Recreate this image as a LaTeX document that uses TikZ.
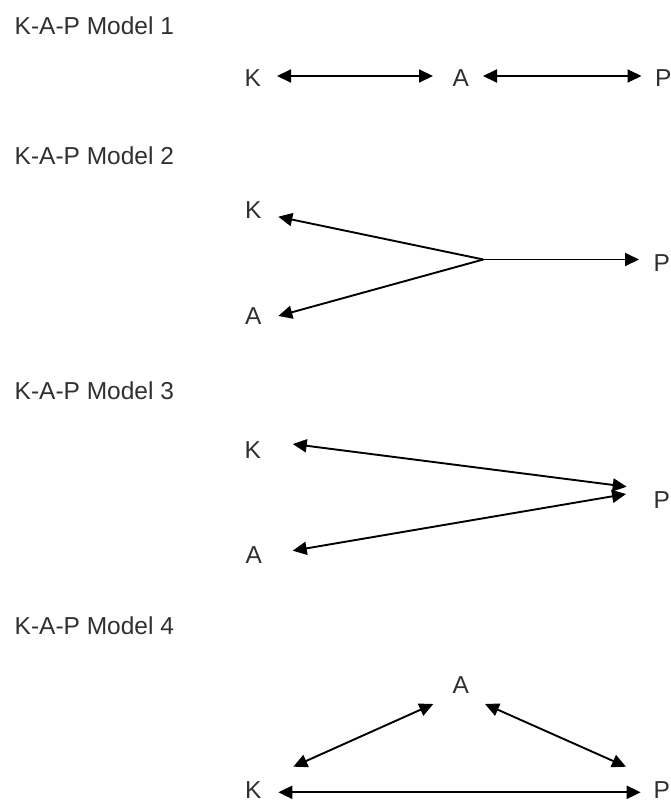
\documentclass[tikz,border=0pt]{standalone}
\usepackage{fontspec}
\setmainfont{Liberation Sans}
\usetikzlibrary{arrows.meta}
\definecolor{txt}{HTML}{303030}
\tikzset{
  lbl/.style={inner sep=0pt, anchor=base west, text=txt, font=\fontsize{24.5}{29}\selectfont},
  arr/.style={line width=1.9pt, draw=black, -{Triangle[length=14pt,width=13pt]}},
  biarr/.style={line width=1.9pt, draw=black, {Triangle[length=14pt,width=13pt]}-{Triangle[length=14pt,width=13pt]}},
}
\begin{document}
\begin{tikzpicture}[x=1pt,y=-1pt]
\useasboundingbox (0,0) rectangle (670,801);
\fill[white] (0,0) rectangle (670,801);

% section titles
\node[lbl] (t1) at (14.5,34) {K-A-P Model 1};
\node[lbl] (t2) at (14.5,164) {K-A-P Model 2};
\node[lbl] (t3) at (14.5,399) {K-A-P Model 3};
\node[lbl] (t4) at (14.5,634) {K-A-P Model 4};

% Model 1: K <-> A <-> P in a row
\node[lbl] (k1) at (244.5,86) {K};
\node[lbl] (a1) at (452.5,86) {A};
\node[lbl] (p1) at (655,86) {P};
\coordinate (k1e) at (277,76);
\coordinate (a1w) at (433,76);
\coordinate (a1e) at (483,76);
\coordinate (p1w) at (641.5,76);
\draw[biarr] (k1e) -- (a1w);
\draw[biarr] (a1e) -- (p1w);

% Model 2: one junction fanning out to K, A and P
\node[lbl] (k2) at (245,218.5) {K};
\node[lbl] (a2) at (245,324) {A};
\node[lbl] (p2) at (653.5,271.5) {P};
\coordinate (j2) at (483.3,259.5);
\coordinate (k2e) at (278.3,216.7);
\coordinate (a2e) at (278.3,316);
\coordinate (p2w) at (639,259.5);
\draw[arr] (j2) -- (k2e);
\draw[arr] (j2) -- (a2e);
\draw[arr] (j2) -- (p2w);

% Model 3: K <-> P and A <-> P
\node[lbl] (k3) at (244.5,458) {K};
\node[lbl] (a3) at (245.5,563) {A};
\node[lbl] (p3) at (653.5,508.5) {P};
\coordinate (k3e) at (292.7,444);
\coordinate (p3k) at (626.7,486.7);
\coordinate (a3e) at (292.7,550.7);
\coordinate (p3a) at (626,494);
\draw[biarr] (k3e) -- (p3k);
\draw[biarr] (a3e) -- (p3a);

% Model 4: triangle K - A - P
\node[lbl] (a4) at (452.5,693.3) {A};
\node[lbl] (k4) at (245,798.5) {K};
\node[lbl] (p4) at (653.5,798.5) {P};
\coordinate (k4e) at (278.3,792.3);
\coordinate (p4w) at (640.7,792.3);
\coordinate (k4n) at (293.3,766.7);
\coordinate (a4sw) at (433.3,704);
\coordinate (a4se) at (485,704);
\coordinate (p4n) at (626,766.7);
\draw[biarr] (k4e) -- (p4w);
\draw[biarr] (k4n) -- (a4sw);
\draw[biarr] (a4se) -- (p4n);
\end{tikzpicture}
\end{document}
